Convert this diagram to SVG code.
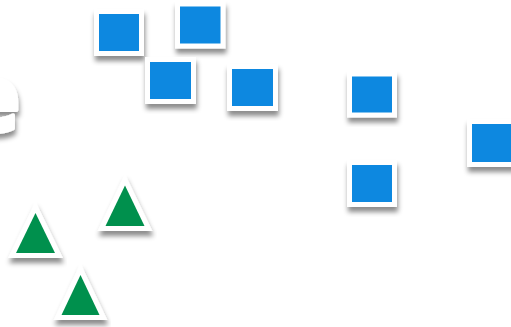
<svg xmlns="http://www.w3.org/2000/svg" width="511" height="327" viewBox="0 0 511 327">
<style>
.sq{fill:#0888E0;stroke:#fff;stroke-width:10;paint-order:stroke;filter:url(#sh)}
.tri{fill:#03904E;stroke:#fff;stroke-width:10;paint-order:stroke;stroke-linejoin:miter;filter:url(#sh)}
.big{font-family:"Open Sans","DejaVu Sans",sans-serif;font-weight:800;font-size:92px;fill:#fff;stroke:#fff;stroke-width:4;stroke-linejoin:round;filter:url(#sh)}
</style>
<defs>
<filter id="sh" x="-30%" y="-30%" width="160%" height="170%">
<feDropShadow dx="1" dy="5" stdDeviation="2.5" flood-color="#000" flood-opacity="0.45"/>
</filter>
</defs>
<rect width="511" height="327" fill="#fff"/>
<g id="title"><text class="big" x="20" y="131" text-anchor="end">e</text></g>
<g id="connectors"></g>
<g id="sq1"><rect class="sq" x="99" y="14" width="40" height="37"/></g>
<g id="sq2"><rect class="sq" x="180" y="6.5" width="40.5" height="37"/></g>
<g id="sq3"><rect class="sq" x="150" y="62" width="41" height="37"/></g>
<g id="sq4"><rect class="sq" x="232" y="69" width="41" height="37"/></g>
<g id="sq5"><rect class="sq" x="352" y="76.5" width="40" height="36"/></g>
<g id="sq6"><rect class="sq" x="352" y="165" width="40" height="37"/></g>
<g id="sq7"><rect class="sq" x="472" y="124" width="45" height="38"/></g>
<g id="tri1"><polygon class="tri" points="35.5,213 16,253 55,253"/></g>
<g id="tri2"><polygon class="tri" points="125,185.5 105.5,226 144.5,226"/></g>
<g id="tri3"><polygon class="tri" points="80.5,275 61.5,315 99.5,315"/></g>
</svg>
